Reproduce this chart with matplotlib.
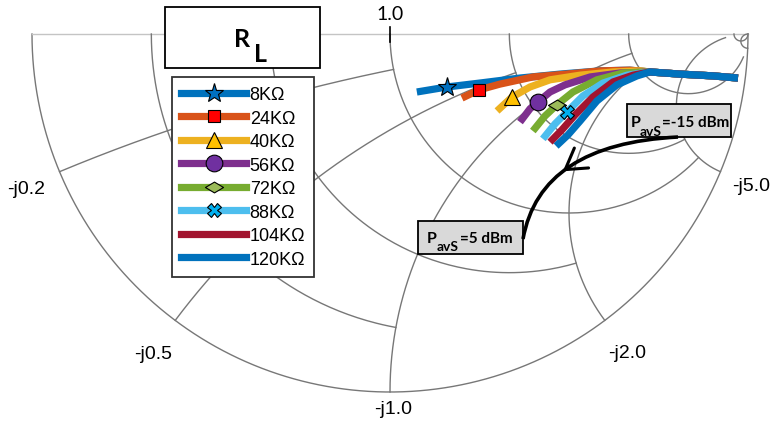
import numpy as np
import matplotlib.pyplot as plt
from matplotlib.lines import Line2D
from matplotlib.path import Path
from matplotlib.patches import Rectangle, PathPatch

# load resistances
names = ['8K\u03a9', '24K\u03a9', '40K\u03a9', '56K\u03a9', '72K\u03a9', '88K\u03a9', '104K\u03a9', '120K\u03a9']
colors = ['#0072BD', '#D95319', '#EDB120', '#7E2F8E', '#77AC30', '#4DBEEE', '#A2142F', '#0072BD']

re_8k = [0.075, 0.159, 0.251, 0.363, 0.475, 0.587, 0.670, 0.726, 0.810, 0.902, 0.972]
im_8k = [-0.162, -0.148, -0.137, -0.123, -0.112, -0.103, -0.101, -0.106, -0.112, -0.117, -0.123]
re_24k = [0.201, 0.249, 0.307, 0.399, 0.494, 0.587, 0.670, 0.726, 0.810, 0.902, 0.972]
im_24k = [-0.179, -0.156, -0.140, -0.120, -0.112, -0.103, -0.101, -0.106, -0.112, -0.117, -0.123]
re_40k = [0.299, 0.341, 0.391, 0.447, 0.531, 0.623, 0.698, 0.726, 0.810, 0.902, 0.972]
im_40k = [-0.215, -0.176, -0.148, -0.128, -0.115, -0.106, -0.103, -0.106, -0.112, -0.117, -0.123]
re_56k = [0.363, 0.391, 0.413, 0.447, 0.489, 0.559, 0.642, 0.726, 0.810, 0.902, 0.972]
im_56k = [-0.246, -0.209, -0.190, -0.162, -0.142, -0.120, -0.109, -0.106, -0.112, -0.117, -0.123]
re_72k = [0.399, 0.433, 0.466, 0.511, 0.578, 0.651, 0.726, 0.810, 0.902, 0.972]
im_72k = [-0.271, -0.229, -0.198, -0.162, -0.128, -0.109, -0.106, -0.112, -0.117, -0.123]
re_88k = [0.427, 0.461, 0.494, 0.539, 0.595, 0.662, 0.726, 0.810, 0.902, 0.972]
im_88k = [-0.293, -0.251, -0.218, -0.173, -0.137, -0.115, -0.106, -0.112, -0.117, -0.123]
re_104k = [0.447, 0.480, 0.517, 0.567, 0.623, 0.679, 0.726, 0.810, 0.902, 0.972]
im_104k = [-0.302, -0.268, -0.226, -0.176, -0.134, -0.115, -0.106, -0.112, -0.117, -0.123]
re_120k = [0.464, 0.497, 0.531, 0.578, 0.634, 0.690, 0.726, 0.810, 0.902, 0.972]
im_120k = [-0.313, -0.282, -0.243, -0.187, -0.142, -0.117, -0.106, -0.112, -0.117, -0.123]

traces_re = [re_8k, re_24k, re_40k, re_56k, re_72k, re_88k, re_104k, re_120k]
traces_im = [im_8k, im_24k, im_40k, im_56k, im_72k, im_88k, im_104k, im_120k]
mark_idx = [1, 1, 1, 2, 2, 2, None, None]

# smith grid (value, extent)
r_vals = [0.2, 0.5, 1, 2, 5, 50]
r_ends = [1, 2, 5, 5, 30, 1e4]
x_vals = [0.2, 0.5, 1, 2, 5, 50]
x_ends = [1, 2, 5, 5, 30, 1e4]
x_labels = ['-j0.2', '-j0.5', '-j1.0', '-j2.0', '-j5.0']

diamond = Path([(-1, 0), (0, 0.6), (1, 0), (0, -0.6), (-1, 0)], closed=True)
markers = ['*', 's', '^', 'o', diamond, 'X', None, None]
msizes = [14, 8, 12, 12, 13, 10, 0, 0]
mfaces = ['#0070C0', '#FF0000', '#FFC000', '#7030A0', '#9BBB59', '#00B0F0', 'none', 'none']


def P(x, y):
    # pixel -> gamma plane
    return ((x - 390) / 358, -(y - 35) / 358)


def gamma(z):
    return (z - 1) / (z + 1)


fig = plt.figure(figsize=(7.73, 4.27), dpi=100)
ax = fig.add_axes([0, 0, 1, 1])
ax.set_xlim(P(0, 0)[0], P(773, 0)[0])
ax.set_ylim(P(0, 427)[1], P(0, 0)[1])
ax.axis('off')

gc = '#777777'
t = np.linspace(0, np.pi, 400)
ax.plot(np.cos(t), -np.sin(t), color=gc, lw=1.0)
ax.plot([-1, 1], [0, 0], color='#c4c4c4', lw=1.0)
for r, xe in zip(r_vals, r_ends):
    xs = np.concatenate([[0], np.geomspace(1e-3, xe, 600)])
    g = gamma(r - 1j * xs)
    ax.plot(g.real, g.imag, color=gc, lw=1.0)
for x, re in zip(x_vals, x_ends):
    rs = np.concatenate([[0], np.geomspace(1e-3, re, 600)])
    g = gamma(rs - 1j * x)
    ax.plot(g.real, g.imag, color=gc, lw=1.0)

lab_pos = [(26, 190), (153, 355), (393, 410), (627, 354), (751, 187)]
for s, (lx, ly) in zip(x_labels, lab_pos):
    ax.text(*P(lx, ly), s, fontsize=14, family='Liberation Sans', ha='center', va='center')
ax.text(*P(390, 15), '1.0', fontsize=14, family='Lato', ha='center', va='center')
ax.plot(*zip(P(390, 28), P(390, 43)), color='k', lw=1.2)

for i in range(8):
    ax.plot(traces_re[i], traces_im[i], color=colors[i], lw=5.2,
            solid_joinstyle='round', solid_capstyle='butt', zorder=3)
for i in range(8):
    k = mark_idx[i]
    if k is not None:
        ax.plot(traces_re[i][k], traces_im[i][k], ls='none', marker=markers[i], ms=msizes[i],
                mfc=mfaces[i], mec='k', mew=0.8, zorder=4)

handles = []
for i in range(8):
    handles.append(Line2D([0], [0], color=colors[i], lw=5.2, marker=markers[i],
                          ms=msizes[i], mfc=mfaces[i], mec='k', mew=0.8))
leg = ax.legend(handles, names, loc='upper left', bbox_to_anchor=(172 / 773, 1 - 78 / 427),
                bbox_transform=fig.transFigure, borderaxespad=0, fancybox=False,
                framealpha=1, edgecolor='#333333', handlelength=3.6, handletextpad=0.2,
                borderpad=0.5, labelspacing=0.36, prop={'family': 'Liberation Sans', 'size': 13})
leg.get_frame().set_linewidth(1.3)
leg.set_zorder(6)

# R_L box
x0, y0 = P(165, 69)
ax.add_patch(Rectangle((x0, y0), 155 / 358, 61 / 358, fc='white', ec='k', lw=1.3, zorder=5))
ax.text(*P(234, 47), 'R', fontsize=18, family='Lato', weight='bold', va='baseline', zorder=6)
ax.text(*P(254, 62), 'L', fontsize=18, family='Lato', weight='bold', va='baseline', zorder=6)

# PavS boxes
boxes = [((627, 138), 104, 33, (631, 127), (640, 136), (662, 127), '=-15 dBm'),
         ((418, 255), 105, 33, (427, 243), (437, 251), (460, 243), '=5 dBm')]
for (bx, by), bw, bh, pp, sp, tp, txt in boxes:
    ax.add_patch(Rectangle(P(bx, by), bw / 358, bh / 358, fc='#D9D9D9', ec='k', lw=1.3, zorder=5))
    ax.text(*P(*pp), 'P', fontsize=11.5, family='Lato', weight='bold', va='baseline', zorder=6)
    ax.text(*P(*sp), 'avS', fontsize=10, family='Lato', weight='bold', va='baseline', zorder=6)
    ax.text(*P(*tp), txt, fontsize=11, family='Lato', weight='bold', va='baseline', zorder=6)

# sweep arrow
S, C, E = np.array(P(678, 138)), np.array(P(540, 145)), np.array(P(523, 240))
arc = Path([S, C, E], [Path.MOVETO, Path.CURVE3, Path.CURVE3])
ax.add_patch(PathPatch(arc, fc='none', ec='k', lw=2.6, zorder=5))


def bez(tt):
    return (1 - tt) ** 2 * S + 2 * tt * (1 - tt) * C + tt ** 2 * E


ax.annotate('', xy=bez(0.55), xytext=bez(0.50),
            arrowprops=dict(arrowstyle='->,head_length=0.9,head_width=0.55', lw=2.2,
                            color='k', shrinkA=0, shrinkB=0, mutation_scale=16), zorder=5)

fig.savefig('out.png', dpi=100)
